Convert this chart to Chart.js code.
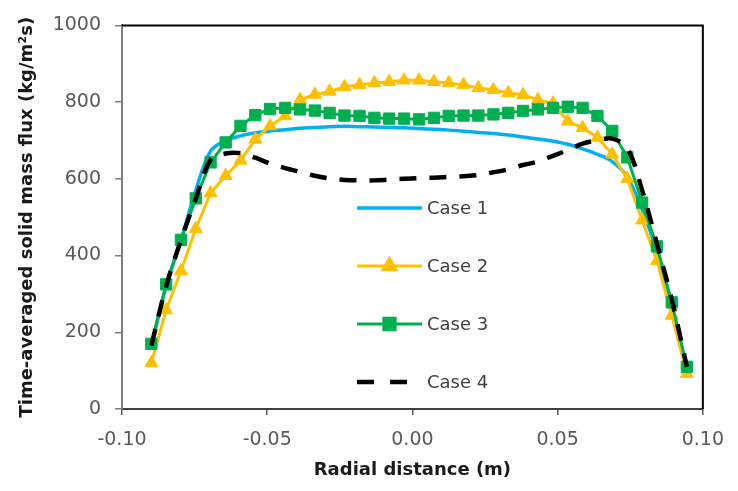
<!DOCTYPE html>
<html><head><meta charset="utf-8">
<script src="https://cdn.jsdelivr.net/npm/chart.js@4.4.0/dist/chart.umd.min.js"></script>
<style>html,body{margin:0;padding:0;background:#fff}#wrap{width:738px;height:491px}</style>
</head><body><div id="wrap"><canvas id="c" width="738" height="491"></canvas></div>
<script>
const radialDistance = [-0.0899,-0.0848,-0.0797,-0.0746,-0.0695,-0.0643,-0.0592,-0.0541,-0.0490,-0.0438,
  -0.0387,-0.0336,-0.0285,-0.0234,-0.0182,-0.0131,-0.0080,-0.0029,0.0023,0.0074,
  0.0125,0.0176,0.0227,0.0279,0.0330,0.0381,0.0432,0.0484,0.0535,0.0586,
  0.0637,0.0688,0.0740,0.0791,0.0842,0.0893,0.0945];
const case1 = [165,320,440,570,672,700,712,720,725,728,732,734,736,737,736,735,734,733,731,729,
  727,724,721,718,714,709,704,698,690,678,664,645,605,520,410,265,105];
const case2 = [120,258,360,470,563,608,648,703,738,764,806,820,828,840,845,850,853,857,857,853,
  850,845,837,832,824,819,806,797,750,733,708,664,600,492,386,244,92];
const case3 = [170,325,441,549,643,695,738,766,782,785,781,778,772,765,764,759,757,757,755,759,
  764,765,765,768,772,777,781,785,788,785,764,725,656,538,424,278,110];
const case4 = [165,320,440,548,650,666,667,655,640,628,618,608,601,597,596,596,598,600,602,603,
  605,607,610,617,625,636,645,660,675,692,700,705,680,570,430,285,110];
const seriesNames = ['Case 1','Case 2','Case 3','Case 4'];
const xTicks = [-0.10,-0.05,0.00,0.05,0.10];
const yTicks = [0,200,400,600,800,1000];

function pts(ys){ return radialDistance.map((x,i)=>({x:x,y:ys[i]})); }

const FONT = "'DejaVu Sans'";

const frame = {
  id:'frame',
  afterDraw(chart){
    const {ctx, chartArea:a} = chart;
    ctx.save();
    ctx.strokeStyle = '#000';
    ctx.lineWidth = 2;
    ctx.beginPath();
    ctx.moveTo(a.left, a.top);
    ctx.lineTo(a.right, a.top);
    ctx.lineTo(a.right, a.bottom);
    ctx.stroke();
    ctx.restore();
  }
};

const legendPlugin = {
  id:'customLegend',
  afterDraw(chart){
    const ctx = chart.ctx;
    const x0 = 357, x1 = 422, tx = 427;
    const ys = [208, 266, 324, 382];
    chart.data.datasets.forEach((ds,i)=>{
      const y = ys[i];
      ctx.save();
      ctx.strokeStyle = ds.borderColor;
      ctx.lineWidth = ds.borderWidth;
      ctx.lineCap = 'butt';
      ctx.setLineDash(ds.borderDash ? [17,16] : []);
      ctx.beginPath(); ctx.moveTo(x0,y); ctx.lineTo(x1,y); ctx.stroke();
      ctx.setLineDash([]);
      if (ds.pointRadius > 0) {
        Chart.helpers.drawPoint(ctx, {pointStyle: ds.pointStyle, radius: ds.pointRadius, borderWidth: 1}, (x0+x1)/2, y);
        ctx.fillStyle = ds.pointBackgroundColor;
        ctx.fill();
      }
      ctx.fillStyle = '#404040';
      ctx.font = "18px " + FONT;
      ctx.textBaseline = 'middle';
      ctx.textAlign = 'left';
      ctx.fillText(seriesNames[i], tx, y+1);
      ctx.restore();
    });
  }
};

new Chart(document.getElementById('c'), {
  type:'scatter',
  data:{ datasets:[
    {label:seriesNames[0], data:pts(case1), showLine:true, borderColor:'#00B0F0', backgroundColor:'#00B0F0',
      borderWidth:3.5, pointRadius:0, tension:0.35, order:4},
    {label:seriesNames[1], data:pts(case2), showLine:true, borderColor:'#FFC000', backgroundColor:'#FFC000',
      borderWidth:3, pointStyle:'triangle', pointRadius:7.5, pointBackgroundColor:'#FFC000', pointBorderColor:'#FFC000', pointBorderWidth:1, tension:0, order:3},
    {label:seriesNames[2], data:pts(case3), showLine:true, borderColor:'#00B050', backgroundColor:'#00B050',
      borderWidth:3, pointStyle:'rect', pointRadius:8, pointBackgroundColor:'#00B050', pointBorderColor:'#00B050', pointBorderWidth:1, tension:0, order:2},
    {label:seriesNames[3], data:pts(case4), showLine:true, borderColor:'#000000', backgroundColor:'#000000',
      borderWidth:4.5, borderDash:[17,13], pointRadius:0, tension:0.35, order:1}
  ]},
  options:{
    responsive:false, animation:false,
    layout:{padding:{top:22, right:26, left:0, bottom:0}},
    plugins:{legend:{display:false}, tooltip:{enabled:false}},
    scales:{
      x:{type:'linear', min:-0.1, max:0.1,
        afterBuildTicks(s){ s.ticks = xTicks.map(v=>({value:v})); },
        afterFit(s){ s.height = 82; },
        ticks:{callback:v=>Number(v).toFixed(2), color:'#595959', font:{family:FONT, size:19}, padding:14, maxRotation:0, autoSkip:false},
        grid:{drawOnChartArea:false, drawTicks:true, tickLength:6, color:'#595959', lineWidth:1.5},
        border:{color:'#404040', width:2},
        title:{display:true, text:'Radial distance (m)', color:'#1a1a1a', font:{family:FONT, size:18, weight:'bold'}, padding:{top:0,bottom:10}}
      },
      y:{type:'linear', min:0, max:1000,
        afterBuildTicks(s){ s.ticks = yTicks.map(v=>({value:v})); },
        afterFit(s){ s.width = 122; },
        ticks:{callback:v=>String(v), color:'#595959', font:{family:FONT, size:19}, padding:14},
        grid:{drawOnChartArea:false, drawTicks:true, tickLength:7, color:'#7f7f7f', lineWidth:1.5},
        border:{color:'#7f7f7f', width:2},
        title:{display:true, text:'Time-averaged solid mass flux (kg/m²s)', color:'#1a1a1a', font:{family:FONT, size:18, weight:'bold'}, padding:{top:17,bottom:0}}
      }
    }
  },
  plugins:[frame, legendPlugin]
});
</script></body></html>
